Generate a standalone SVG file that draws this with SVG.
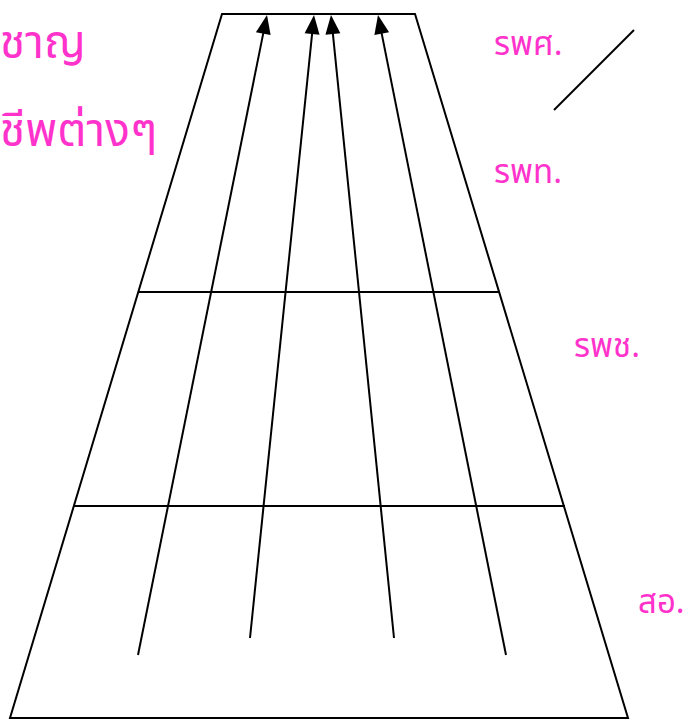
<svg xmlns="http://www.w3.org/2000/svg" width="696" height="725" viewBox="0 0 696 725">
<defs>
<style>
.ln{stroke:#000;stroke-width:2;fill:none}
.ah{fill:#000;stroke:none}
.lb{fill:#FF33CC;font-family:"Noto Sans Thai","Loma","Garuda","DejaVu Sans",sans-serif}
</style>
</defs>
<rect width="696" height="725" fill="#fff"/>
<g id="frame">
<path class="ln" d="M222,14 L415,14 L628,718 L10,718 Z"/>
<line class="ln" x1="138" y1="292" x2="499" y2="292"/>
<line class="ln" x1="74" y1="506" x2="565" y2="506"/>
</g>
<g id="connectors">
<line class="ln" x1="138" y1="655" x2="263.4" y2="32.6"/>
<polygon class="ah" points="267,15 270.6,35.1 255.9,32.14"/>
<line class="ln" x1="250" y1="638" x2="312.2" y2="32.9"/>
<polygon class="ah" points="314,15 319.52,34.67 304.6,33.13"/>
<line class="ln" x1="394" y1="638" x2="332.8" y2="32.9"/>
<polygon class="ah" points="331,15 340.37,33.15 325.45,34.65"/>
<line class="ln" x1="506" y1="655" x2="381.5" y2="32.6"/>
<polygon class="ah" points="378,15 389.08,32.16 374.38,35.1"/>
<line class="ln" x1="554" y1="110" x2="634" y2="30"/>
</g>
<g id="label-left">
<text class="lb" x="0" y="58" font-size="46">ชาญ</text>
<text class="lb" x="0" y="146" font-size="46">ชีพต่างๆ</text>
</g>
<g id="label-rps"><text class="lb" x="494" y="55" font-size="33">รพศ.</text></g>
<g id="label-rpt"><text class="lb" x="494" y="183" font-size="33">รพท.</text></g>
<g id="label-rpc"><text class="lb" x="574" y="357" font-size="33">รพช.</text></g>
<g id="label-so"><text class="lb" x="638" y="613" font-size="33">สอ.</text></g>
</svg>
